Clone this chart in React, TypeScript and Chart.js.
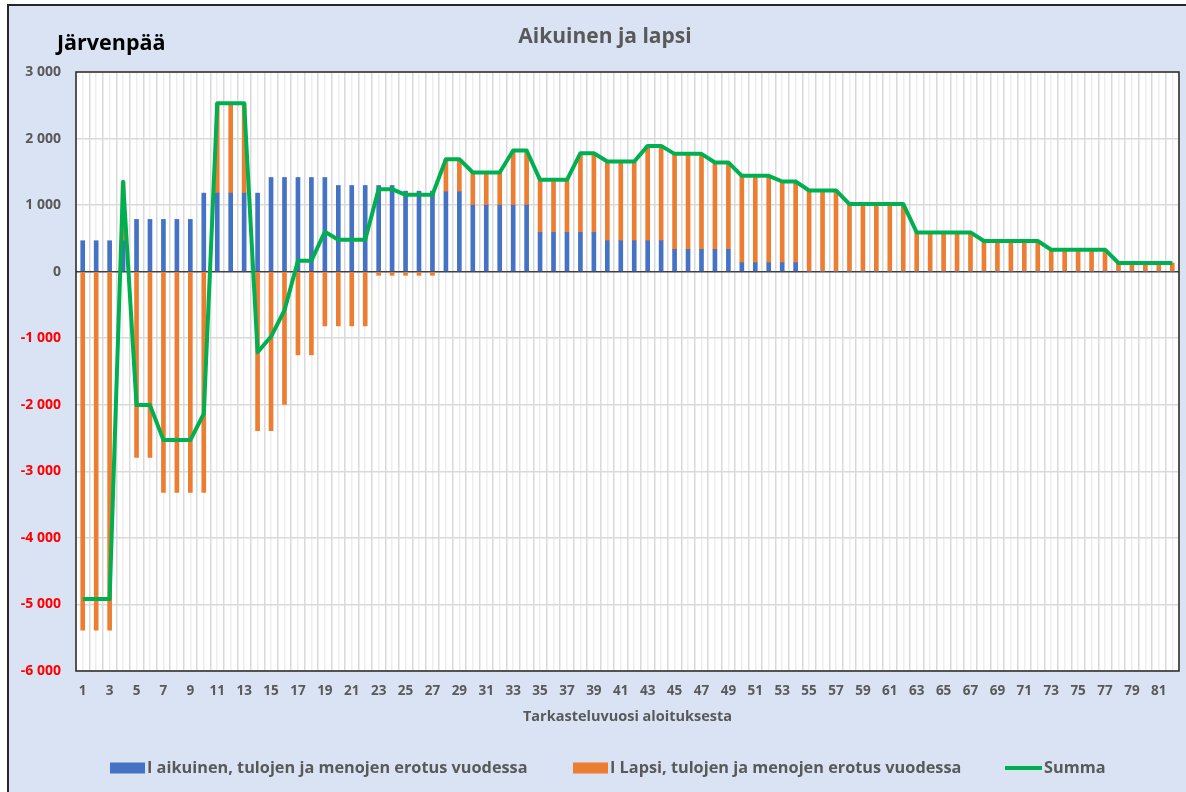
import { useEffect, useRef } from "react";
import { Chart, registerables } from "chart.js";

Chart.register(...registerables);

const CITY = "Järvenpää";
const TITLE = "Aikuinen ja lapsi";
const X_TITLE = "Tarkasteluvuosi aloituksesta";

const years = [
  "1", "2", "3", "4", "5", "6", "7", "8", "9", "10",
  "11", "12", "13", "14", "15", "16", "17", "18", "19", "20",
  "21", "22", "23", "24", "25", "26", "27", "28", "29", "30",
  "31", "32", "33", "34", "35", "36", "37", "38", "39", "40",
  "41", "42", "43", "44", "45", "46", "47", "48", "49", "50",
  "51", "52", "53", "54", "55", "56", "57", "58", "59", "60",
  "61", "62", "63", "64", "65", "66", "67", "68", "69", "70",
  "71", "72", "73", "74", "75", "76", "77", "78", "79", "80",
  "81", "82",
];

const seriesNames = [
  "I aikuinen, tulojen ja menojen erotus vuodessa",
  "I Lapsi, tulojen ja menojen erotus vuodessa",
  "Summa",
];

const aikuinen = [
  465, 465, 465, 465, 785, 785, 785, 785, 785, 1180,
  1180, 1180, 1180, 1180, 1415, 1415, 1415, 1415, 1415, 1295,
  1295, 1295, 1295, 1295, 1210, 1210, 1210, 1200, 1200, 1000,
  1000, 1000, 1000, 1000, 590, 590, 590, 590, 590, 465,
  465, 465, 465, 465, 335, 335, 335, 335, 335, 135,
  135, 135, 135, 135, 0, 0, 0, 0, 0, 0,
  0, 0, 0, 0, 0, 0, 0, 0, 0, 0,
  0, 0, 0, 0, 0, 0, 0, 0, 0, 0,
  0, 0,
];

const lapsi = [
  -5385, -5385, -5385, 885, -2790, -2790, -3315, -3315, -3315, -3315,
  1350, 1350, 1350, -2390, -2390, -1995, -1250, -1250, -815, -815,
  -815, -815, -55, -55, -55, -55, -55, 490, 490, 490,
  490, 490, 820, 820, 790, 790, 790, 1190, 1190, 1190,
  1190, 1190, 1425, 1425, 1435, 1435, 1435, 1305, 1305, 1305,
  1305, 1305, 1220, 1220, 1220, 1220, 1220, 1015, 1015, 1015,
  1015, 1015, 590, 590, 590, 590, 590, 460, 460, 460,
  460, 460, 330, 330, 330, 330, 330, 130, 130, 130,
  130, 130,
];

const summa = [
  -4920, -4920, -4920, 1350, -2005, -2005, -2530, -2530, -2530, -2135,
  2530, 2530, 2530, -1210, -975, -580, 165, 165, 600, 480,
  480, 480, 1240, 1240, 1155, 1155, 1155, 1690, 1690, 1490,
  1490, 1490, 1820, 1820, 1380, 1380, 1380, 1780, 1780, 1655,
  1655, 1655, 1890, 1890, 1770, 1770, 1770, 1640, 1640, 1440,
  1440, 1440, 1355, 1355, 1220, 1220, 1220, 1015, 1015, 1015,
  1015, 1015, 590, 590, 590, 590, 590, 460, 460, 460,
  460, 460, 330, 330, 330, 330, 330, 130, 130, 130,
  130, 130,
];

const Y_MIN = -6000;
const Y_MAX = 3000;
const Y_STEP = 1000;

const BLUE = "#4472C4";
const ORANGE = "#ED7D31";
const GREEN = "#00B050";
const GREY_TEXT = "#595959";
const FONT = "'Open Sans'";

const fmt = (v: number) => {
  const s = Math.abs(v)
    .toString()
    .replace(/\B(?=(\d{3})+(?!\d))/g, " ");
  return (v < 0 ? "-" : "") + s;
};

const decorPlugin = {
  id: "decor",
  beforeDraw(chart: any) {
    const { ctx, chartArea } = chart;
    const { left, top, right, bottom } = chartArea;
    ctx.save();
    ctx.fillStyle = "#FFFFFF";
    ctx.fillRect(left, top, right - left, bottom - top);
    ctx.restore();
  },
  afterDraw(chart: any) {
    const { ctx, chartArea } = chart;
    const { left, top, right, bottom } = chartArea;
    ctx.save();
    ctx.strokeStyle = "#262626";
    ctx.lineWidth = 1.5;
    ctx.strokeRect(left, top, right - left, bottom - top);

    ctx.fillStyle = GREY_TEXT;
    ctx.font = `bold 21px ${FONT}`;
    ctx.textAlign = "center";
    ctx.textBaseline = "alphabetic";
    ctx.fillText(TITLE, 605, 43);

    ctx.fillStyle = "#000000";
    ctx.font = `bold 21.5px ${FONT}`;
    ctx.textAlign = "left";
    ctx.fillText(CITY, 57, 50);

    // legend
    const legendX = [110, 573, 1005];
    const ly = 768;
    ctx.font = `bold 16.3px ${FONT}`;
    ctx.textBaseline = "middle";
    chart.data.datasets.forEach((ds: any, i: number) => {
      const x = legendX[i];
      if (ds.type === "line") {
        ctx.strokeStyle = ds.borderColor;
        ctx.lineWidth = 4;
        ctx.beginPath();
        ctx.moveTo(x, ly);
        ctx.lineTo(x + 37, ly);
        ctx.stroke();
        ctx.fillStyle = GREY_TEXT;
        ctx.fillText(ds.label, x + 39, ly);
      } else {
        ctx.fillStyle = ds.backgroundColor;
        ctx.fillRect(x, ly - 5.5, 35, 11);
        ctx.fillStyle = GREY_TEXT;
        ctx.fillText(ds.label, x + 37, ly);
      }
    });
    ctx.restore();
  },
};

export default function App() {
  const ref = useRef<HTMLCanvasElement>(null);

  useEffect(() => {
    if (!ref.current) return;
    const chart = new Chart(ref.current, {
      type: "bar",
      data: {
        labels: years,
        datasets: [
          {
            type: "bar",
            label: seriesNames[0],
            data: aikuinen,
            backgroundColor: BLUE,
            stack: "bars",
            barThickness: 4,
            order: 1,
          },
          {
            type: "bar",
            label: seriesNames[1],
            data: lapsi,
            backgroundColor: ORANGE,
            stack: "bars",
            barThickness: 4,
            order: 1,
          },
          {
            type: "line",
            label: seriesNames[2],
            data: summa,
            borderColor: GREEN,
            backgroundColor: GREEN,
            borderWidth: 4,
            pointRadius: 0,
            tension: 0,
            stack: "sum",
            borderJoinStyle: "round",
            order: 0,
          } as any,
        ],
      },
      options: {
        responsive: false,
        maintainAspectRatio: false,
        devicePixelRatio: 1,
        animation: false,
        events: [],
        layout: {
          padding: { left: 0, top: 72, right: 7, bottom: 66.6 },
        },
        plugins: {
          legend: { display: false },
          title: { display: false },
          tooltip: { enabled: false },
        },
        scales: {
          x: {
            type: "category",
            stacked: true,
            offset: true,
            grid: {
              offset: true,
              color: "#D9D9D9",
              lineWidth: 1.5,
              drawTicks: false,
            },
            border: { display: false },
            ticks: {
              color: GREY_TEXT,
              font: { family: FONT, size: 13.5, weight: "bold" },
              autoSkip: false,
              maxRotation: 0,
              minRotation: 0,
              padding: 12,
              callback: (_v: any, idx: number) =>
                idx % 2 === 0 ? years[idx] : "",
            },
            title: {
              display: true,
              text: X_TITLE,
              color: GREY_TEXT,
              font: { family: FONT, size: 14.5, weight: "bold" },
              padding: { top: 0, bottom: 0 },
            },
            afterFit: (s: any) => {
              s.height = 54.4;
            },
          },
          x2: {
            type: "category",
            position: "bottom",
            offset: true,
            grid: {
              offset: false,
              color: "#EEEEEE",
              lineWidth: 1.5,
              drawTicks: false,
            },
            border: { display: false },
            ticks: { display: false },
            afterFit: (s: any) => {
              s.height = 0;
            },
          },
          y: {
            stacked: true,
            min: Y_MIN,
            max: Y_MAX,
            grid: {
              color: (c: any) =>
                c.tick && c.tick.value === 0 ? "#404040" : "#D9D9D9",
              lineWidth: 1.5,
              drawTicks: false,
            },
            border: { display: false },
            ticks: {
              stepSize: Y_STEP,
              padding: 15,
              color: (c: any) =>
                c.tick && c.tick.value < 0 ? "#FF0000" : GREY_TEXT,
              font: { family: FONT, size: 14, weight: "bold" },
              callback: (v: any) => fmt(Number(v)),
            },
            afterFit: (s: any) => {
              s.width = 76;
            },
          },
        },
      },
      plugins: [decorPlugin],
    } as any);
    return () => chart.destroy();
  }, []);

  return (
    <div
      style={{
        position: "fixed",
        left: 0,
        top: 0,
        width: 1186,
        height: 792,
        background: "#FFFFFF",
        overflow: "hidden",
      }}
    >
      <div
        style={{
          position: "absolute",
          left: 7,
          top: 4,
          right: -10,
          bottom: -10,
          background: "#DAE3F3",
          borderLeft: "2px solid #262626",
          borderTop: "2px solid #262626",
        }}
      />
      <canvas
        ref={ref}
        width={1186}
        height={792}
        style={{ position: "absolute", left: 0, top: 0, width: 1186, height: 792 }}
      />
    </div>
  );
}
